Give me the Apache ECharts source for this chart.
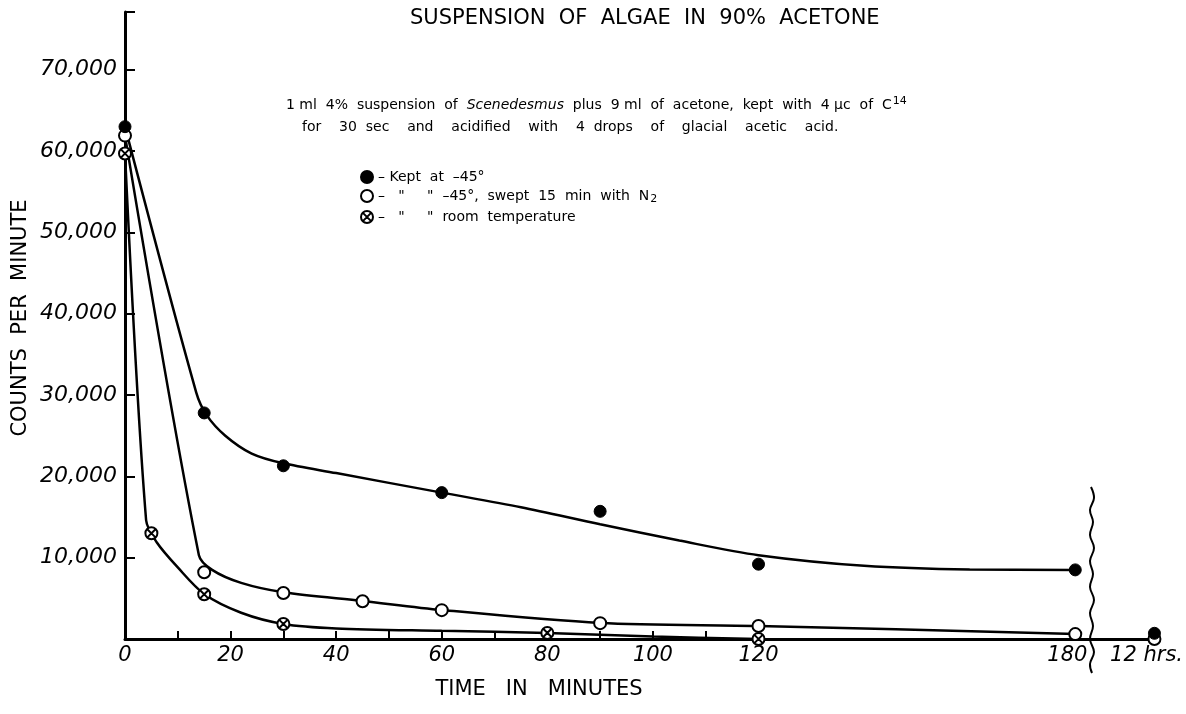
<!DOCTYPE html>
<html>
<head>
<meta charset="utf-8">
<script src="https://cdn.jsdelivr.net/npm/echarts@6/dist/echarts.min.js"></script>
<style>
  html, body { margin: 0; padding: 0; background: #fff; }
  #chart { width: 1186px; height: 714px; }
</style>
</head>
<body>
<div id="chart"></div>
<script>
// measured points: minutes vs counts per minute (195 = the "12 hrs." spot past the axis break)
const keptMin = [0, 15, 30, 60, 90, 120, 180, 195];
const keptCounts = [63000, 27800, 21300, 18000, 15700, 9200, 8500, 700];
const sweptMin = [0, 15, 30, 45, 60, 90, 120, 180, 195];
const sweptCounts = [61900, 8200, 5650, 4650, 3550, 1950, 1600, 600, 0];
const roomMin = [0, 5, 15, 30, 80, 120];
const roomCounts = [59700, 13000, 5500, 1850, 750, 0];

// hand drawn curves
const keptCurveMin = [0, 13.5, 15.5, 19, 24, 30, 40, 60, 75, 90, 105, 120, 140, 160, 180];
const keptCurveCounts = [63000, 30300, 27500, 25000, 22800, 21600, 20400, 18000, 16200, 14100, 12100, 10300, 9000, 8550, 8500];
const sweptCurveMin = [0, 14, 16.5, 22, 30, 45, 60, 90, 120, 180];
const sweptCurveCounts = [61900, 10300, 8500, 6900, 5750, 4680, 3570, 1970, 1600, 620];
const roomCurveMin = [0, 4, 6, 10, 15, 22, 30, 40, 60, 80, 100, 120];
const roomCurveCounts = [59700, 14600, 11900, 8800, 5530, 3230, 1850, 1300, 1000, 740, 300, 0];

// axis ticks and labels
const xTickValues = [10, 20, 30, 40, 50, 60, 70, 80, 90, 100, 110];
const xLabelValues = [0, 20, 40, 60, 80, 100, 120, 178.5, 193.5];
const xLabelTexts = ['0', '20', '40', '60', '80', '100', '120', '180', '12 hrs.'];

const zip = (a, b) => a.map((v, i) => [v, b[i]]);

const crossedCircle = 'path://M0,-10A10,10 0 1,1 0,10A10,10 0 1,1 0,-10Z M-6,-6L6,6 M6,-6L-6,6';
const font = 'DejaVu Sans';

const chart = echarts.init(document.getElementById('chart'));

const fitLine = (name, data) => ({
  name: name,
  type: 'line',
  data: data,
  smooth: 0.3,
  showSymbol: false,
  silent: true,
  lineStyle: { color: '#000', width: 2.5 },
});

const option = {
  backgroundColor: '#fff',
  animation: false,
  title: [
    {
      text: 'SUSPENSION  OF  ALGAE  IN  90%  ACETONE',
      left: 405,
      top: 3,
      textStyle: { fontFamily: font, fontSize: 21, fontWeight: 'normal', color: '#000' },
    },
    {
      text: '1 ml  4%  suspension  of  {i|Scenedesmus}  plus  9 ml  of  acetone,  kept  with  4 µc  of  C{sup|14}',
      left: 281,
      top: 91,
      textStyle: {
        fontFamily: font,
        fontSize: 14,
        fontWeight: 'normal',
        color: '#000',
        rich: {
          i: { fontFamily: font, fontSize: 14, fontStyle: 'italic', color: '#000' },
          sup: { fontFamily: font, fontSize: 11, color: '#000', padding: [0, 0, 8, 1] },
        },
      },
    },
    {
      text: 'for    30  sec    and    acidified    with    4  drops    of    glacial    acetic    acid.',
      left: 297,
      top: 115,
      textStyle: { fontFamily: font, fontSize: 14, fontWeight: 'normal', color: '#000' },
    },
  ],
  legend: {
    orient: 'vertical',
    left: 355,
    top: 165,
    itemWidth: 12,
    itemHeight: 12,
    itemGap: 5,
    data: ['kept', 'swept', 'room'],
    formatter: (name) => {
      if (name === 'kept') return '– Kept  at  –45°';
      if (name === 'swept') return '–   "     "  –45°,  swept  15  min  with  N{sub|2}';
      return '–   "     "  room  temperature';
    },
    textStyle: {
      fontFamily: font,
      fontSize: 14,
      color: '#000',
      rich: {
        sub: { fontFamily: font, fontSize: 11, color: '#000', padding: [7, 0, 0, 1] },
      },
    },
  },
  graphic: [
    {
      type: 'text',
      x: 21,
      y: 318,
      rotation: Math.PI / 2,
      style: {
        text: 'COUNTS  PER  MINUTE',
        fontFamily: font,
        fontSize: 21,
        fill: '#000',
        align: 'center',
        verticalAlign: 'middle',
      },
    },
    {
      type: 'text',
      x: 539,
      y: 690,
      style: {
        text: 'TIME   IN   MINUTES',
        fontFamily: font,
        fontSize: 21,
        fill: '#000',
        align: 'center',
        verticalAlign: 'middle',
      },
    },
    {
      // wavy axis break
      type: 'polyline',
      shape: {
        smooth: 0.4,
        points: [
          [1091, 487], [1094, 498], [1090, 510], [1093, 522], [1090, 535], [1094, 548],
          [1090, 561], [1093, 574], [1090, 587], [1094, 600], [1090, 613], [1093, 626],
          [1090, 639], [1094, 652], [1090, 664], [1092, 673],
        ],
      },
      style: { stroke: '#000', lineWidth: 2, fill: null },
      z: 10,
    },
  ],
  grid: { left: 125, right: 27, top: 12, bottom: 75 },
  xAxis: {
    type: 'value',
    min: 0,
    max: 195,
    axisLine: { lineStyle: { color: '#000', width: 3 } },
    axisTick: {
      inside: true,
      length: 8,
      customValues: xTickValues,
      lineStyle: { color: '#000', width: 2 },
    },
    axisLabel: {
      customValues: xLabelValues,
      formatter: (v) => {
        const i = xLabelValues.indexOf(v);
        return i >= 0 ? xLabelTexts[i] : '';
      },
      margin: 6,
      fontFamily: font,
      fontSize: 21,
      fontStyle: 'italic',
      color: '#000',
    },
    splitLine: { show: false },
  },
  yAxis: {
    type: 'value',
    min: 0,
    max: 77100,
    interval: 10000,
    axisLine: { show: true, lineStyle: { color: '#000', width: 3 } },
    axisTick: { show: true, inside: true, length: 10, lineStyle: { color: '#000', width: 2 } },
    axisLabel: {
      formatter: (v) => (v > 0 && v % 10000 === 0 ? v.toLocaleString('en-US') : ''),
      margin: 8,
      fontFamily: font,
      fontSize: 22,
      fontStyle: 'italic',
      color: '#000',
    },
    splitLine: { show: false },
  },
  series: [
    fitLine('keptFit', zip(keptCurveMin, keptCurveCounts)),
    fitLine('sweptFit', zip(sweptCurveMin, sweptCurveCounts)),
    fitLine('roomFit', zip(roomCurveMin, roomCurveCounts)),
    {
      name: 'swept',
      type: 'scatter',
      data: zip(sweptMin, sweptCounts),
      symbol: 'circle',
      symbolSize: 12,
      itemStyle: { color: '#fff', borderColor: '#000', borderWidth: 2, opacity: 1 },
      z: 5,
    },
    {
      name: 'room',
      type: 'scatter',
      data: zip(roomMin, roomCounts),
      symbol: crossedCircle,
      symbolSize: 12,
      itemStyle: { color: '#fff', borderColor: '#000', borderWidth: 2, opacity: 1 },
      z: 5,
    },
    {
      name: 'kept',
      type: 'scatter',
      data: zip(keptMin, keptCounts),
      symbol: 'circle',
      symbolSize: 12,
      itemStyle: { color: '#000', borderColor: '#000', borderWidth: 1, opacity: 1 },
      z: 6,
    },
  ],
};

chart.setOption(option);
</script>
</body>
</html>
